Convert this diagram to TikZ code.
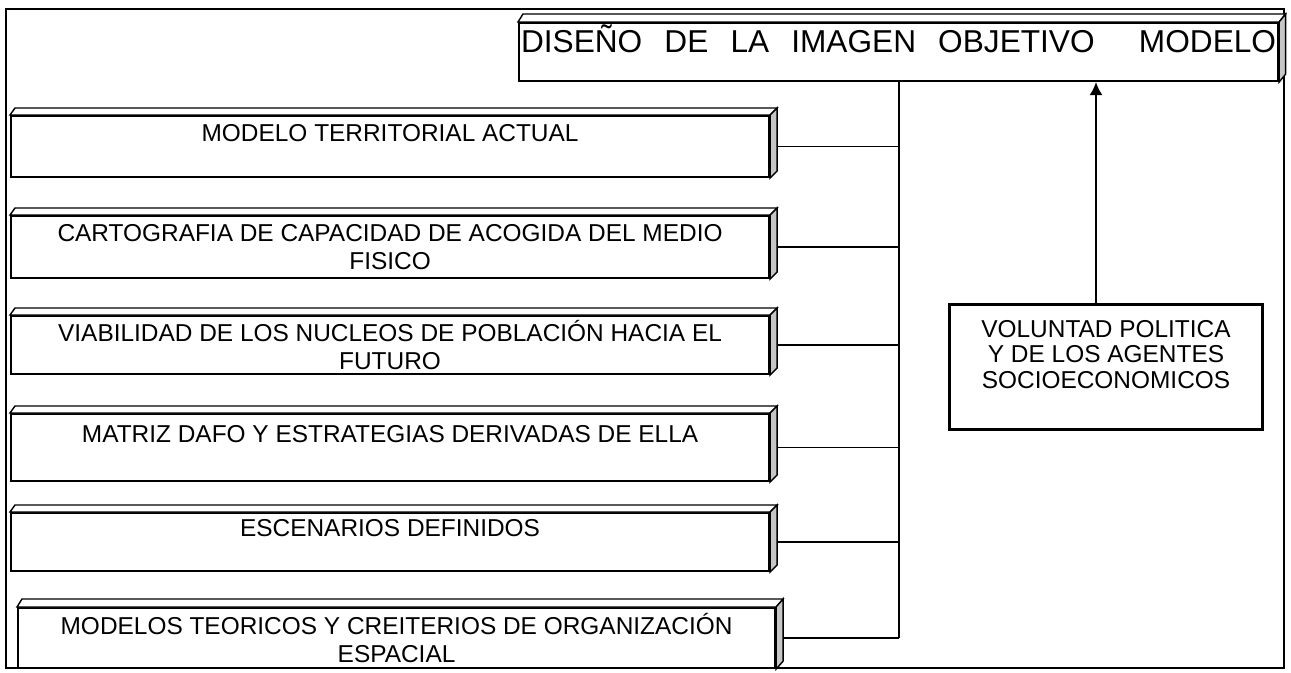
\documentclass[tikz,border=0pt]{standalone}
\usepackage{fontspec}
\setmainfont{Liberation Sans}
\usetikzlibrary{arrows.meta}

\tikzset{
	caja/.style={draw, line width=1.2pt, fill=white, anchor=north west, minimum width=15.16cm, inner sep=0pt, align=center, font=\fontsize{13.9}{15.9}\selectfont},
	cara/.style={draw, line width=0.8pt, fill=white},
	lado/.style={draw, line width=0.8pt, fill=gray!45},
	conector/.style={line width=1pt}
}

\begin{document}
\begin{tikzpicture}

		\useasboundingbox (0,0) rectangle (25.82,13.44);

		% define point

		\coordinate (M1) at (0.12,0.08);

		\coordinate (M2) at (25.68,13.26);

		\draw[line width=1.2pt] (M1) rectangle (M2);

		% title

		\node[caja, minimum width=15.18cm, minimum height=1.16cm, text height=0.58cm, text depth=0.58cm, font=\fontsize{18}{20}\selectfont] (titulo) at (10.36,13.0) {\makebox[15.1cm][s]{DISEÑO DE LA IMAGEN OBJETIVO\ \ MODELO}};

		\draw[cara] (titulo.north west) -- ++(0.10,0.16) -- ([shift={(0.13,0.16)}]titulo.north east) -- (titulo.north east) -- cycle;

		\draw[lado] (titulo.north east) -- ++(0.13,0.16) -- ([shift={(0.13,0.16)}]titulo.south east) -- (titulo.south east) -- cycle;

		% boxes

		\node[caja, minimum height=1.22cm] (b1) at (0.20,11.14) {MODELO TERRITORIAL ACTUAL\\\mbox{}};

		\node[caja, minimum height=1.24cm] (b2) at (0.20,9.14) {CARTOGRAFIA DE CAPACIDAD DE ACOGIDA DEL MEDIO\\FISICO};

		\node[caja, minimum height=1.16cm] (b3) at (0.20,7.14) {VIABILIDAD DE LOS NUCLEOS DE POBLACIÓN HACIA EL\\FUTURO};

		\node[caja, minimum height=1.34cm] (b4) at (0.20,5.18) {MATRIZ DAFO Y ESTRATEGIAS DERIVADAS DE ELLA\\\mbox{}};

		\node[caja, minimum height=1.16cm] (b5) at (0.20,3.20) {ESCENARIOS DEFINIDOS\\\mbox{}};

		\node[caja, minimum height=1.20cm, minimum width=15.14cm] (b6) at (0.34,1.30) {MODELOS TEORICOS Y CREITERIOS DE ORGANIZACIÓN\\ESPACIAL};

		% relief

		\draw[cara] (b1.north west) -- ++(0.10,0.14) -- ([shift={(0.14,0.14)}]b1.north east) -- (b1.north east) -- cycle;

		\draw[lado] (b1.north east) -- ++(0.14,0.14) -- ([shift={(0.14,0.14)}]b1.south east) -- (b1.south east) -- cycle;

		\draw[cara] (b2.north west) -- ++(0.10,0.14) -- ([shift={(0.14,0.14)}]b2.north east) -- (b2.north east) -- cycle;

		\draw[lado] (b2.north east) -- ++(0.14,0.14) -- ([shift={(0.14,0.14)}]b2.south east) -- (b2.south east) -- cycle;

		\draw[cara] (b3.north west) -- ++(0.10,0.14) -- ([shift={(0.14,0.14)}]b3.north east) -- (b3.north east) -- cycle;

		\draw[lado] (b3.north east) -- ++(0.14,0.14) -- ([shift={(0.14,0.14)}]b3.south east) -- (b3.south east) -- cycle;

		\draw[cara] (b4.north west) -- ++(0.10,0.14) -- ([shift={(0.14,0.14)}]b4.north east) -- (b4.north east) -- cycle;

		\draw[lado] (b4.north east) -- ++(0.14,0.14) -- ([shift={(0.14,0.14)}]b4.south east) -- (b4.south east) -- cycle;

		\draw[cara] (b5.north west) -- ++(0.10,0.14) -- ([shift={(0.14,0.14)}]b5.north east) -- (b5.north east) -- cycle;

		\draw[lado] (b5.north east) -- ++(0.14,0.14) -- ([shift={(0.14,0.14)}]b5.south east) -- (b5.south east) -- cycle;

		\draw[cara] (b6.north west) -- ++(0.10,0.16) -- ([shift={(0.14,0.16)}]b6.north east) -- (b6.north east) -- cycle;

		\draw[lado] (b6.north east) -- ++(0.14,0.16) -- ([shift={(0.14,0.16)}]b6.south east) -- (b6.south east) -- cycle;

		% right box

		\node[draw, line width=1.2pt, minimum width=6.26cm, minimum height=2.50cm, inner sep=0pt, align=center, font=\fontsize{13.9}{14.4}\selectfont] (voluntad) at (22.12,6.10) {VOLUNTAD POLITICA\\Y DE LOS AGENTES\\SOCIOECONOMICOS\\\mbox{}};

		% lines

		\coordinate (tronco) at ([xshift=7.62cm]titulo.south west);

		\coordinate (flecha) at ([xshift=11.56cm]titulo.south west);

		\draw[conector] (tronco) -- (b6.east -| tronco);

		\draw[conector] ([xshift=0.14cm]b1.east) -- (b1.east -| tronco);

		\draw[conector] ([xshift=0.14cm]b2.east) -- (b2.east -| tronco);

		\draw[conector] ([xshift=0.14cm]b3.east) -- (b3.east -| tronco);

		\draw[conector] ([xshift=0.14cm]b4.east) -- (b4.east -| tronco);

		\draw[conector] ([xshift=0.14cm]b5.east) -- (b5.east -| tronco);

		\draw[conector] ([xshift=0.14cm]b6.east) -- (b6.east -| tronco);

		\draw[conector, -{Latex[length=0.26cm, width=0.26cm]}] (voluntad.north -| flecha) -- (flecha);

	\end{tikzpicture}
\end{document}
